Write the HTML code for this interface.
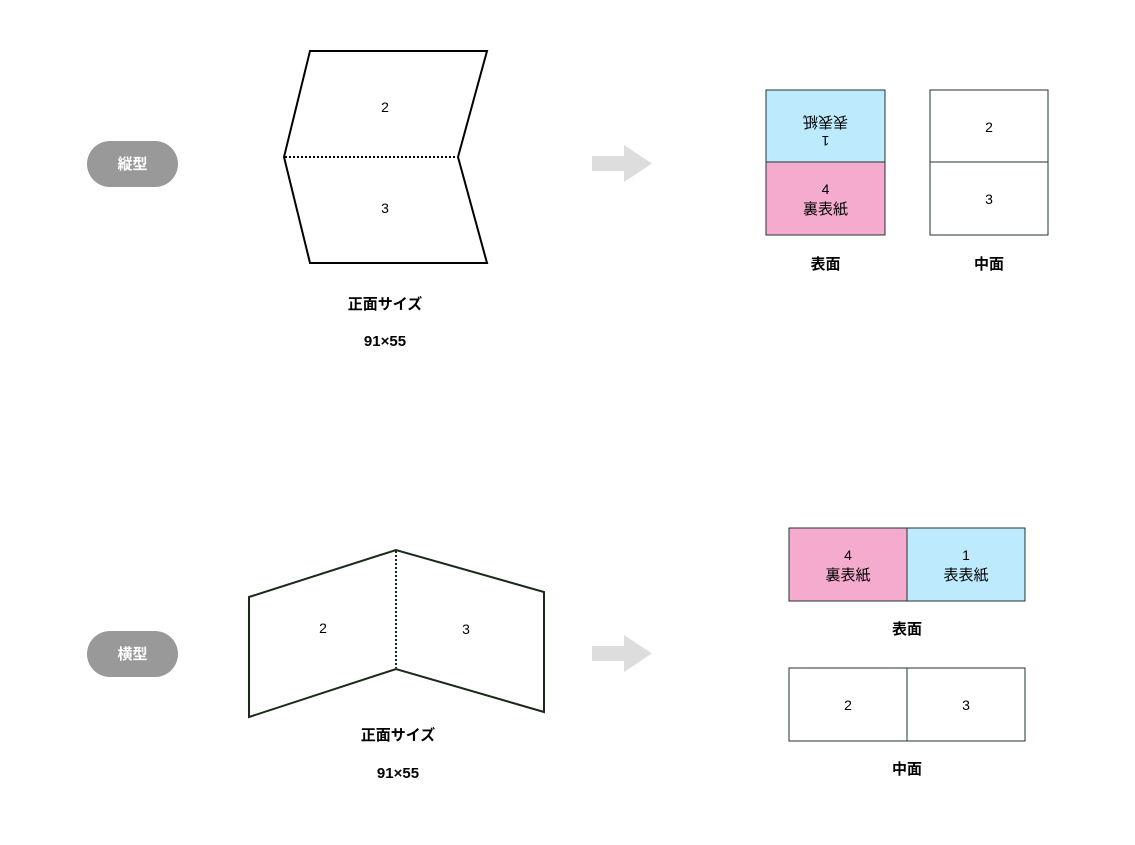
<!DOCTYPE html>
<html><head><meta charset="utf-8"><style>
html,body{margin:0;padding:0;background:#fff;}
svg text{font-family:"Liberation Sans","Noto Sans CJK JP",sans-serif;}
</style></head><body>
<svg width="1135" height="840" viewBox="0 0 1135 840" xmlns="http://www.w3.org/2000/svg">
<rect width="1135" height="840" fill="#fff"/>
<!-- top row -->
<rect x="87" y="141" width="91" height="46" rx="23" fill="#999"/>
<text x="132.5" y="169" font-size="15" fill="#fff" text-anchor="middle" font-weight="bold">縦型</text>
<polygon points="310,51 487,51 458,157 487,263 310,263 284,157" fill="#fff" stroke="#000" stroke-width="2"/>
<line x1="285" y1="157" x2="457" y2="157" stroke="#000" stroke-width="2" stroke-dasharray="2,2"/>
<text x="385" y="112" font-size="14" text-anchor="middle">2</text>
<text x="385" y="213" font-size="14" text-anchor="middle">3</text>
<text x="385" y="309" font-size="15" text-anchor="middle" font-weight="bold">正面サイズ</text>
<text x="385" y="346" font-size="15" text-anchor="middle" font-weight="bold">91×55</text>
<polygon points="592,156 624,156 624,145 652,163.5 624,182 624,171 592,171" fill="#ddd"/>
<rect x="766" y="90" width="119" height="72" fill="#bdeafd" stroke="#233" stroke-width="1"/>
<rect x="766" y="162" width="119" height="73" fill="#f5abce" stroke="#233" stroke-width="1"/>
<g transform="rotate(180 825.5 129)">
<text x="825.5" y="122" font-size="14" text-anchor="middle">1</text>
<text x="825.5" y="141" font-size="15" text-anchor="middle">表表紙</text>
</g>
<text x="825.5" y="194" font-size="14" text-anchor="middle">4</text>
<text x="825.5" y="214" font-size="15" text-anchor="middle">裏表紙</text>
<text x="825.5" y="269" font-size="15" text-anchor="middle" font-weight="bold">表面</text>
<rect x="930" y="90" width="118" height="72" fill="#fff" stroke="#233" stroke-width="1"/>
<rect x="930" y="162" width="118" height="73" fill="#fff" stroke="#233" stroke-width="1"/>
<text x="989" y="132" font-size="14" text-anchor="middle">2</text>
<text x="989" y="204" font-size="14" text-anchor="middle">3</text>
<text x="989" y="269" font-size="15" text-anchor="middle" font-weight="bold">中面</text>
<!-- bottom row -->
<rect x="87" y="631" width="91" height="46" rx="23" fill="#999"/>
<text x="132.5" y="659" font-size="15" fill="#fff" text-anchor="middle" font-weight="bold">横型</text>
<polygon points="249,597 396,550 544,592 544,712 396,669 249,717" fill="#fff" stroke="#1a2a1a" stroke-width="2"/>
<line x1="396" y1="551" x2="396" y2="668" stroke="#1a2a1a" stroke-width="2" stroke-dasharray="2,2"/>
<text x="323" y="633" font-size="14" text-anchor="middle">2</text>
<text x="466" y="634" font-size="14" text-anchor="middle">3</text>
<text x="398" y="740" font-size="15" text-anchor="middle" font-weight="bold">正面サイズ</text>
<text x="398" y="778" font-size="15" text-anchor="middle" font-weight="bold">91×55</text>
<polygon points="592,646 624,646 624,635 652,653.5 624,672 624,661 592,661" fill="#ddd"/>
<rect x="789" y="528" width="118" height="73" fill="#f5abce" stroke="#233" stroke-width="1"/>
<rect x="907" y="528" width="118" height="73" fill="#bdeafd" stroke="#233" stroke-width="1"/>
<text x="848" y="560" font-size="14" text-anchor="middle">4</text>
<text x="848" y="580" font-size="15" text-anchor="middle">裏表紙</text>
<text x="966" y="560" font-size="14" text-anchor="middle">1</text>
<text x="966" y="580" font-size="15" text-anchor="middle">表表紙</text>
<text x="907" y="634" font-size="15" text-anchor="middle" font-weight="bold">表面</text>
<rect x="789" y="668" width="118" height="73" fill="#fff" stroke="#233" stroke-width="1"/>
<rect x="907" y="668" width="118" height="73" fill="#fff" stroke="#233" stroke-width="1"/>
<text x="848" y="710" font-size="14" text-anchor="middle">2</text>
<text x="966" y="710" font-size="14" text-anchor="middle">3</text>
<text x="907" y="774" font-size="15" text-anchor="middle" font-weight="bold">中面</text>
</svg>
</body></html>
